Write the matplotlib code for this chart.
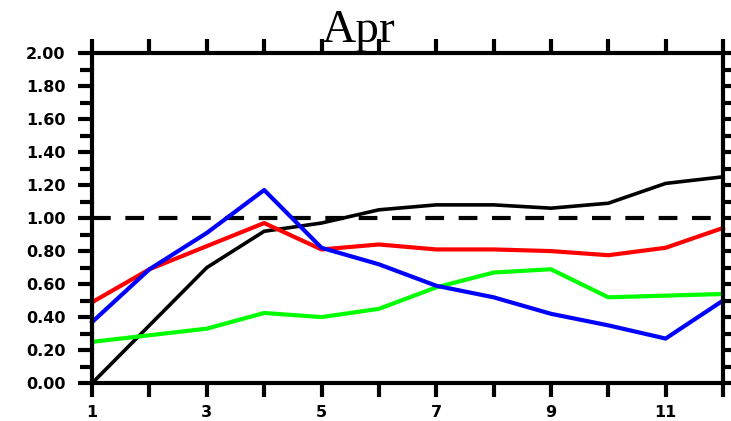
import numpy as np
import matplotlib
matplotlib.use("Agg")
import matplotlib.pyplot as plt

months = [1, 2, 3, 4, 5, 6, 7, 8, 9, 10, 11, 12]
black_vals = [0.00, 0.35, 0.70, 0.92, 0.97, 1.05, 1.08, 1.08, 1.06, 1.09, 1.21, 1.25]
red_vals = [0.49, 0.69, 0.83, 0.97, 0.81, 0.84, 0.81, 0.81, 0.80, 0.775, 0.82, 0.94]
blue_vals = [0.37, 0.69, 0.91, 1.17, 0.82, 0.72, 0.59, 0.52, 0.42, 0.35, 0.27, 0.50]
green_vals = [0.25, 0.29, 0.33, 0.425, 0.40, 0.45, 0.58, 0.67, 0.69, 0.52, 0.53, 0.54]
xtick_labels = ["1", "3", "5", "7", "9", "11"]
yticks = [0.0, 0.2, 0.4, 0.6, 0.8, 1.0, 1.2, 1.4, 1.6, 1.8, 2.0]
ref_level = 1.0

fig = plt.figure(figsize=(7.31, 4.21), dpi=100)
ax = fig.add_axes([0.126, 0.090, 0.863, 0.784])

ax.plot(months, [ref_level] * len(months), color="k", lw=3, dashes=(4.5, 3.5), clip_on=False)
ax.plot(months, black_vals, color="k", lw=2.6, clip_on=False)
ax.plot(months, red_vals, color="#ff0000", lw=3, clip_on=False)
ax.plot(months, green_vals, color="#00ff00", lw=3, clip_on=False)
ax.plot(months, blue_vals, color="#0000ff", lw=3, clip_on=False)

ax.set_xlim(1, 12)
ax.set_ylim(0, 2)
ax.set_xticks(months)
ax.set_xticklabels([str(m) if str(m) in xtick_labels else "" for m in months])
ax.set_yticks(yticks)
ax.set_yticklabels(["%.2f" % v for v in yticks])
ax.set_yticks(np.arange(0.1, 2.0, 0.2), minor=True)

for s in ax.spines.values():
    s.set_linewidth(3)
ax.tick_params(axis="both", which="both", direction="out", width=3, length=10,
               top=True, right=True, labelsize=11.5)
ax.tick_params(axis="y", which="minor", length=9)
ax.tick_params(axis="y", which="major", pad=9)
ax.tick_params(axis="x", pad=6)
for lab in ax.get_xticklabels() + ax.get_yticklabels():
    lab.set_fontweight("bold")

fig.text(0.49, 0.900, "Apr", ha="center", va="baseline", fontsize=34,
         family="Liberation Serif")

fig.savefig("out.png", dpi=100)
